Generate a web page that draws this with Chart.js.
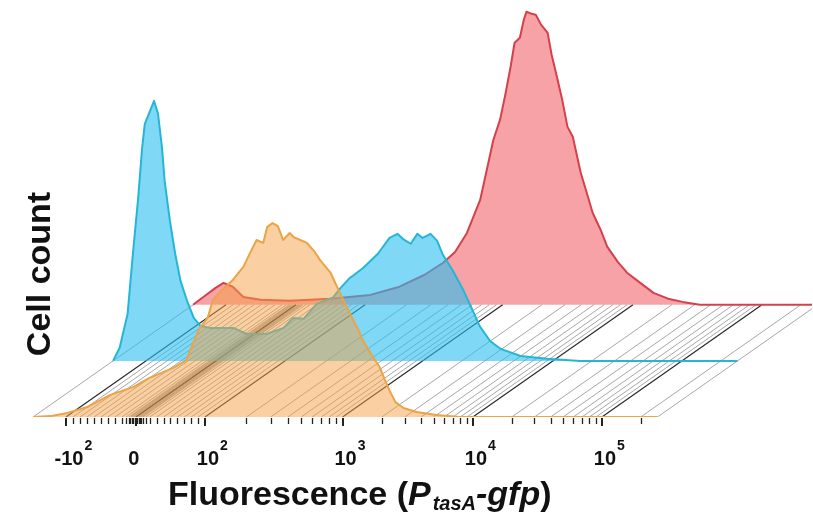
<!DOCTYPE html>
<html>
<head>
<meta charset="utf-8">
<script src="https://cdn.jsdelivr.net/npm/chart.js@4.4.0/dist/chart.umd.min.js"></script>
<style>
  html, body { margin: 0; padding: 0; background: #fff; }
  #wrap { width: 813px; height: 525px; position: relative; }
</style>
</head>
<body>
<div id="wrap"><canvas id="chart"></canvas></div>
<script>
// x = position on the logicle display axis (log decades above 10^2), y = relative cell count
const orangeX = [0.70,0.83,0.96,1.11,1.28,1.46,1.58,1.76,1.86,1.91,1.96,2.02,2.06,2.13,2.21,2.29,2.34,2.39,2.44,2.47,2.51,2.55,2.59,2.64,2.67,2.72,2.77,2.83,2.87,2.95,3.02,3.07,3.12,3.16,3.19,3.26,3.32,3.36,3.40,3.44,3.50,3.60,3.75,3.93,5.42];
const orangeY = [0,0.3,1.4,3.4,7.5,10.3,13.4,16.8,19.5,25.3,30.5,33.9,40.1,43.5,46.9,51.4,56.1,60.6,59.6,65.0,66.4,65.4,60.6,63.0,61.6,60.6,59.6,56.5,53.7,49.3,42.5,37.7,33.2,29.8,26.4,21.2,17.1,12.7,8.6,5.1,3.1,1.7,0.7,0,0];

const cyanX = [0.70,0.75,0.81,0.85,0.89,0.92,0.94,0.98,1.01,1.04,1.07,1.09,1.13,1.17,1.21,1.26,1.31,1.36,1.43,1.61,1.71,1.86,1.99,2.06,2.14,2.24,2.36,2.42,2.49,2.59,2.70,2.79,2.85,2.89,2.95,3.00,3.04,3.10,3.15,3.19,3.27,3.35,3.42,3.47,3.55,3.63,3.78,3.98,4.23,5.42];
const cyanY = [0,4.5,16.1,36.6,55.8,72.9,81.1,85.6,89.0,84.6,72.9,61.6,47.9,36.6,27.4,20.5,14.7,12.0,11.3,11.3,9.2,9.2,11.3,14.7,14.4,19.5,21.6,25.0,28.4,31.8,36.6,42.1,43.5,41.8,40.1,43.5,42.1,43.5,41.1,36.6,30.8,24.0,17.1,12.0,6.8,4.1,1.7,0.7,0,0];

const redX = [0.70,0.79,0.87,0.93,1.00,1.08,1.21,1.43,1.74,2.04,2.26,2.45,2.59,2.68,2.77,2.87,2.97,3.02,3.06,3.10,3.13,3.17,3.20,3.22,3.26,3.29,3.33,3.38,3.41,3.45,3.49,3.53,3.57,3.63,3.68,3.72,3.78,3.83,3.91,3.98,4.08,4.18,4.29,4.40,4.53,5.42];
const redY = [0,3.1,5.8,7.5,6.2,2.7,1.7,1.4,2.1,3.4,6.2,10.3,14.4,18.1,24.6,35.9,56.5,63.3,71.9,81.5,89.7,91.4,97.6,100.3,99.6,99.3,95.9,93.1,85.6,78.1,70.2,60.9,57.5,45.2,37.7,31.5,25.7,19.9,14.7,11.0,7.5,4.1,2.1,1.0,0,0];

// axis ticks
const tickBase = ['-10', '0', '10', '10', '10', '10'];
const tickExp = ['2', '', '2', '3', '4', '5'];
const tickPos = [0.949, 1.478, 2.0, 3.04, 4.025, 5.0];
const linearMinor = [-90,-80,-70,-60,-50,-40,-30,-20,-14,-10,-8,-6,-4,-2,2,4,6,8,10,14,20,30,40,50,60,70,80,90];
const logMinor = [2,3,4,5,6,7,8,9];

const X_MIN = 0.70, X_END = 5.42;
// depth offset between stacked histograms
const DX = 0.605, DY = 19.2;

const decadePos = {2: 2.0, 3: 3.04, 4: 4.025, 5: 5.0, 6: 5.975};
const minorPos = [];
linearMinor.forEach(v => {
  minorPos.push(v < 0 ? tickPos[1] + v / 100 * (tickPos[1] - tickPos[0]) : tickPos[1] + v / 100 * (tickPos[2] - tickPos[1]));
});
[2, 3, 4].forEach(k => logMinor.forEach(m => {
  minorPos.push(decadePos[k] + Math.log10(m) * (decadePos[k + 1] - decadePos[k]));
}));
minorPos.push(decadePos[5] + Math.log10(2) * (decadePos[6] - decadePos[5]));

function layer(xs, ys, depth) {
  return xs.map((x, i) => ({ x: x + DX * depth, y: ys[i] + DY * depth }));
}

function floorLines(list) {
  const pts = [];
  list.forEach(p => {
    pts.push({ x: p, y: 0 }, { x: p + 2 * DX, y: 2 * DY }, { x: p, y: null });
  });
  return pts;
}

const font = '"Liberation Sans", Arial, sans-serif';

const textPlugin = {
  id: 'texts',
  afterDraw(chart) {
    const ctx = chart.ctx;
    const xs = chart.scales.x;
    const base = chart.chartArea.bottom;
    ctx.save();
    ctx.strokeStyle = '#222';
    ctx.lineWidth = 1.3;
    minorPos.forEach(p => {
      const px = Math.round(xs.getPixelForValue(p)) + 0.5;
      ctx.beginPath(); ctx.moveTo(px, base + 1); ctx.lineTo(px, base + 7); ctx.stroke();
    });
    ctx.lineWidth = 2;
    tickPos.forEach(p => {
      const px = Math.round(xs.getPixelForValue(p));
      ctx.beginPath(); ctx.moveTo(px, base + 1); ctx.lineTo(px, base + 9); ctx.stroke();
    });

    ctx.fillStyle = '#111';
    ctx.textBaseline = 'alphabetic';
    tickPos.forEach((p, i) => {
      const px = xs.getPixelForValue(p);
      ctx.font = 'bold 20px ' + font;
      const w = ctx.measureText(tickBase[i]).width;
      const cx = tickExp[i] ? px + 3 : px - 2;
      ctx.textAlign = 'left';
      ctx.fillText(tickBase[i], cx - w / 2, 465);
      if (tickExp[i]) {
        ctx.font = 'bold 14px ' + font;
        ctx.fillText(tickExp[i], cx + w / 2 + 1, 450);
      }
    });

    // x title
    let x = 168;
    const parts = [
      ['Fluorescence (', 'bold 34px', 505],
      ['P', 'italic bold 34px', 505],
      ['tasA', 'italic bold 20px', 510],
      ['-gfp', 'italic bold 34px', 505],
      [')', 'bold 34px', 505]
    ];
    parts.forEach(([t, f, y]) => {
      ctx.font = f + ' ' + font;
      ctx.fillText(t, x, y);
      x += ctx.measureText(t).width + (t === 'P' ? 2 : 0);
    });

    // y title
    ctx.translate(41, 274);
    ctx.rotate(-Math.PI / 2);
    ctx.textAlign = 'center';
    ctx.textBaseline = 'middle';
    ctx.font = 'bold 34px ' + font;
    ctx.fillText('Cell count', 0, 0);
    ctx.restore();
  }
};

const common = { pointRadius: 0, borderJoinStyle: 'round', tension: 0 };

new Chart(document.getElementById('chart'), {
  type: 'line',
  data: {
    datasets: [
      { ...common, label: 'orange', data: layer(orangeX, orangeY, 0), order: 1,
        borderColor: '#eba446', borderWidth: 2, backgroundColor: 'rgba(245,160,70,0.5)', fill: { value: 0 } },
      { ...common, label: 'cyan', data: layer(cyanX, cyanY, 1), order: 2,
        borderColor: '#25b6d6', borderWidth: 2, backgroundColor: 'rgba(40,190,240,0.6)', fill: { value: DY } },
      { ...common, label: 'red', data: layer(redX, redY, 2), order: 3,
        borderColor: '#d6404b', borderWidth: 2, backgroundColor: 'rgba(240,70,80,0.5)', fill: { value: 2 * DY } },
      { ...common, label: 'major', data: floorLines(tickPos), order: 4, spanGaps: false,
        borderColor: '#2a2a2a', borderWidth: 1.2, fill: false },
      { ...common, label: 'minor', data: floorLines(minorPos.concat([X_MIN, X_END])), order: 5, spanGaps: false,
        borderColor: 'rgba(70,70,70,0.6)', borderWidth: 0.8, fill: false }
    ]
  },
  options: {
    responsive: true,
    maintainAspectRatio: false,
    animation: false,
    layout: { padding: { left: 33, right: 1, top: 8, bottom: 108 } },
    plugins: { legend: { display: false }, tooltip: { enabled: false } },
    scales: {
      x: { type: 'linear', display: false, min: X_MIN, max: X_MIN + 779 / 132.3 },
      y: { type: 'linear', display: false, min: 0, max: 140 }
    }
  },
  plugins: [textPlugin]
});
</script>
</body>
</html>
